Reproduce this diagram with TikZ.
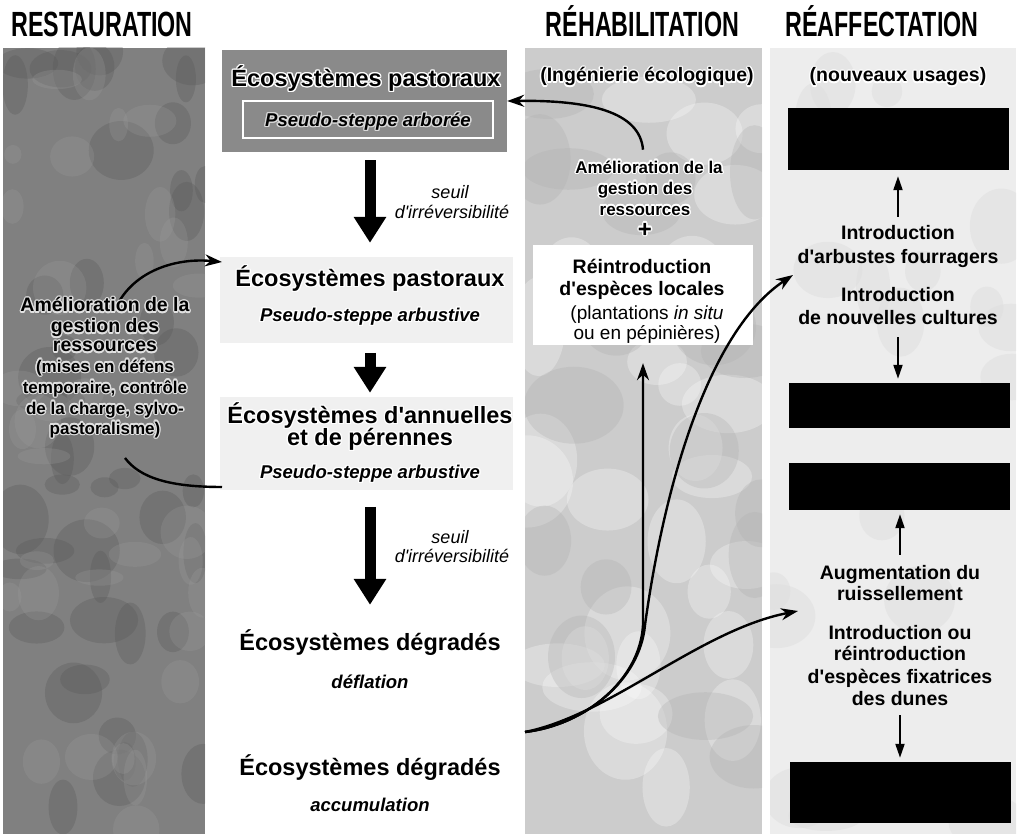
\documentclass[tikz,border=0pt]{standalone}
\usepackage{fontspec}
\setmainfont{Liberation Sans}
\newfontfamily\hdfont[FakeStretch=0.665]{Liberation Sans}
\usepackage{contour}
\contourlength{1.3pt}
\contournumber{12}
\usetikzlibrary{arrows.meta}
\newcommand\ap{\textquotesingle}
\begin{document}
\begin{tikzpicture}[x=1pt,y=-1pt,
 hd/.style={font=\hdfont\bfseries\fontsize{35}{38}\selectfont, inner sep=0pt, text height=25pt, text depth=0pt},
 ttl/.style={font=\bfseries\fontsize{23.5}{26}\selectfont, inner sep=0pt, text height=16.8pt, text depth=0pt},
 subt/.style={font=\bfseries\itshape\fontsize{18.5}{21}\selectfont, inner sep=0pt, text height=13.2pt, text depth=0pt},
 seu/.style={font=\itshape\fontsize{18}{20}\selectfont, inner sep=0pt, text height=12.9pt, text depth=0pt},
 rt/.style={font=\bfseries\fontsize{19.5}{22}\selectfont, inner sep=0pt, text height=14pt, text depth=0pt},
 rg/.style={font=\fontsize{19}{22}\selectfont, inner sep=0pt, text height=13.6pt, text depth=0pt},
 rh/.style={font=\bfseries\fontsize{17}{19}\selectfont, inner sep=0pt, text height=12.2pt, text depth=0pt},
 lp/.style={font=\bfseries\fontsize{19.5}{22}\selectfont, inner sep=0pt, text height=14pt, text depth=0pt},
 lq/.style={font=\bfseries\fontsize{17}{20}\selectfont, inner sep=0pt, text height=12.2pt, text depth=0pt},
 blk/.style={fill=black, inner sep=0pt, minimum width=221pt},
 bigarr/.style={line width=11pt, -{Triangle[length=26pt,width=31pt]}},
 tarrow/.style={line width=2pt, -{Triangle[length=14pt,width=9pt]}},
 curv/.style={line width=2.4pt, -{Stealth[length=17pt,width=12pt]}},
 curvline/.style={line width=2.4pt}
]
\useasboundingbox (0,0) rectangle (1018,834);
\fill[white] (0,0) rectangle (1018,834);
\pgfmathsetseed{4242}
% ---------- column backgrounds ----------
\fill[black!50] (3,48) rectangle (205,834);
\begin{scope}
 \clip (3,48) rectangle (205,834);
 \foreach \i in {1,...,45}{
  \pgfmathsetmacro\xx{3+202*rnd}
  \pgfmathsetmacro\yy{48+786*rnd}
  \pgfmathsetmacro\ra{10+25*rnd}
  \pgfmathsetmacro\rb{10+25*rnd}
  \fill[black!66, opacity=0.3] (\xx,\yy) ellipse (\ra pt and \rb pt);
 }
 \foreach \i in {1,...,35}{
  \pgfmathsetmacro\xx{3+202*rnd}
  \pgfmathsetmacro\yy{48+786*rnd}
  \pgfmathsetmacro\ra{8+20*rnd}
  \pgfmathsetmacro\rb{8+20*rnd}
  \fill[black!38, opacity=0.25] (\xx,\yy) ellipse (\ra pt and \rb pt);
 }
\end{scope}
\fill[black!20] (525,48) rectangle (762,834);
\begin{scope}
 \clip (525,48) rectangle (762,834);
 \foreach \i in {1,...,30}{
  \pgfmathsetmacro\xx{525+237*rnd}
  \pgfmathsetmacro\yy{48+786*rnd}
  \pgfmathsetmacro\ra{20+30*rnd}
  \pgfmathsetmacro\rb{20+30*rnd}
  \fill[white, opacity=0.28] (\xx,\yy) ellipse (\ra pt and \rb pt);
 }
 \foreach \i in {1,...,18}{
  \pgfmathsetmacro\xx{525+237*rnd}
  \pgfmathsetmacro\yy{48+786*rnd}
  \pgfmathsetmacro\ra{20+30*rnd}
  \pgfmathsetmacro\rb{20+30*rnd}
  \fill[black!30, opacity=0.35] (\xx,\yy) ellipse (\ra pt and \rb pt);
 }
\end{scope}
\fill[black!7] (770,48) rectangle (1016,834);
\begin{scope}
 \clip (770,48) rectangle (1016,834);
 \foreach \i in {1,...,18}{
  \pgfmathsetmacro\xx{770+246*rnd}
  \pgfmathsetmacro\yy{48+786*rnd}
  \pgfmathsetmacro\ra{15+25*rnd}
  \pgfmathsetmacro\rb{15+25*rnd}
  \fill[black!13, opacity=0.5] (\xx,\yy) ellipse (\ra pt and \rb pt);
 }
\end{scope}
\fill[black!6] (220,257) rectangle (513,343);
\fill[black!6] (220,397) rectangle (513,490);

% ---------- headers ----------
\node[hd] (hRest) at (102,24.5) {RESTAURATION};
\node[hd] (hRehab) at (642.5,24.5) {RÉHABILITATION};
\node[hd] (hReaf) at (882,24.5) {RÉAFFECTATION};

% ---------- middle column ----------
\node[fill=black!46, minimum width=285pt, minimum height=102pt, inner sep=0pt] (topbox) at (364.5,101) {};
\node[ttl] (t1) at (366,78) {\contour{white}{Écosystèmes pastoraux}};
\node[subt, draw=white, line width=2pt, minimum width=250pt, minimum height=37pt] (t1s) at (368,120) {\contour{white!85!black}{Pseudo-steppe arborée}};

\node[ttl] (t2) at (370,278) {\contour{white}{Écosystèmes pastoraux}};
\node[subt] (t2s) at (370,315) {\contour{white}{Pseudo-steppe arbustive}};
\node[ttl] (t3a) at (370,415) {\contour{white}{Écosystèmes d\ap annuelles}};
\node[ttl] (t3b) at (370,437) {\contour{white}{et de pérennes}};
\node[subt] (t3s) at (370,472) {\contour{white}{Pseudo-steppe arbustive}};
\node[ttl] (t4) at (370,642) {Écosystèmes dégradés};
\node[subt] (t4s) at (370,682) {déflation};
\node[ttl] (t5) at (370,767) {Écosystèmes dégradés};
\node[subt] (t5s) at (370,805) {accumulation};

\node[seu] (s1a) at (450,192) {seuil};
\node[seu] (s1b) at (452,212) {d\ap irréversibilité};
\node[seu] (s2a) at (450,537) {seuil};
\node[seu] (s2b) at (452,556) {d\ap irréversibilité};

\draw[bigarr, shorten <=8pt, shorten >=26.6pt] (topbox.south -| t2.north) -- (t2.north);
\draw[bigarr, shorten <=31pt, shorten >=13.6pt] (t2s.south) -- (t3a.north);
\draw[bigarr, shorten <=28pt, shorten >=28.6pt] (t3s.south) -- (t4.north);

% ---------- right column ----------
\node[blk, minimum height=62pt] (b1) at (898,139) {};
\node[blk, minimum height=45pt] (b2) at (899,405.5) {};
\node[blk, minimum height=47pt] (b3) at (899,486.5) {};
\node[blk, minimum height=61pt] (b4) at (900,792.5) {};
\node[rt] (nu) at (898,75) {\contour{white}{(nouveaux usages)}};
\node[rt] (r1a) at (898,233) {Introduction};
\node[rt] (r1b) at (898,257) {d\ap arbustes fourragers};
\node[rt] (r2a) at (898,295) {Introduction};
\node[rt] (r2b) at (898,318) {de nouvelles cultures};
\node[rt] (r3a) at (900,572) {Augmentation du};
\node[rt] (r3b) at (900,593) {ruissellement};
\node[rt] (r4a) at (900,632) {Introduction ou};
\node[rt] (r4b) at (900,653) {réintroduction};
\node[rt] (r4c) at (900,676) {d\ap espèces fixatrices};
\node[rt] (r4d) at (900,698) {des dunes};
\draw[tarrow, shorten <=9pt, shorten >=6pt] (r1a.north) -- (r1a.north |- b1.south);
\draw[tarrow, shorten <=12pt, shorten >=4pt] (r2b.south) -- (r2b.south |- b2.north);
\draw[tarrow, shorten <=10pt, shorten >=4pt] (r3a.north) -- (r3a.north |- b3.south);
\draw[tarrow, shorten <=10pt, shorten >=4pt] (r4d.south) -- (r4d.south |- b4.north);

% ---------- rehabilitation column ----------
\node[fill=white, minimum width=220pt, minimum height=100pt, inner sep=0pt] (wb) at (643,295) {};
\node[rt] (ing) at (647,75) {\contour{white}{(Ingénierie écologique)}};
\node[rh] (am1) at (649,167) {\contour{white}{Amélioration de la}};
\node[rh] (am2) at (645,188) {\contour{white}{gestion des}};
\node[rh] (am3) at (645,209) {\contour{white}{ressources}};
\node[rh, font=\bfseries\fontsize{24}{26}\selectfont] (am4) at (645,231) {\contour{white}{+}};
\node[rt] (re1) at (642,267) {Réintroduction};
\node[rt] (re2) at (642,289) {d\ap espèces locales};
\node[rg] (re3) at (647,313) {(plantations \textit{in situ}};
\node[rg] (re4) at (647,333) {ou en pépinières)};

\draw[curv] ([xshift=-6pt,yshift=11pt]am1.north) .. controls (640,112) and (590,100) .. (topbox.east);

\coordinate (src) at (525,732);
\coordinate (tipB) at (793,275);
\coordinate (tipC) at (798,611);
\draw[curv, shorten >=18pt] (src) .. controls (585,725) and (640,680) .. (643,625) -- (wb.south);
\draw[curv] (src) .. controls (585,725) and (640,680) .. (645,625) .. controls (665,480) and (710,330) .. (tipB);
\draw[curv] (src) .. controls (610,715) and (700,630) .. (tipC);

% ---------- restoration column ----------
\coordinate (lsA) at (120,300);
\coordinate (tipL) at (222,262);
\coordinate (lsB) at (125,458);
\coordinate (leB) at (222,487);
\draw[curv] (lsA) .. controls (140,268) and (180,258) .. (tipL);
\draw[curvline] (leB) .. controls (170,487) and (140,478) .. (lsB);

\node[lp] (l1) at (105,305) {\contour{white!88!black}{Amélioration de la}};
\node[lp] (l2) at (105,326) {\contour{white!88!black}{gestion des}};
\node[lp] (l3) at (105,345) {\contour{white!88!black}{ressources}};
\node[lq] (l4) at (105,366) {\contour{white!88!black}{(mises en défens}};
\node[lq] (l5) at (105,387) {\contour{white!88!black}{temporaire, contrôle}};
\node[lq] (l6) at (105,408) {\contour{white!88!black}{de la charge, sylvo-}};
\node[lq] (l7) at (105,428) {\contour{white!88!black}{pastoralisme)}};
\end{tikzpicture}
\end{document}
